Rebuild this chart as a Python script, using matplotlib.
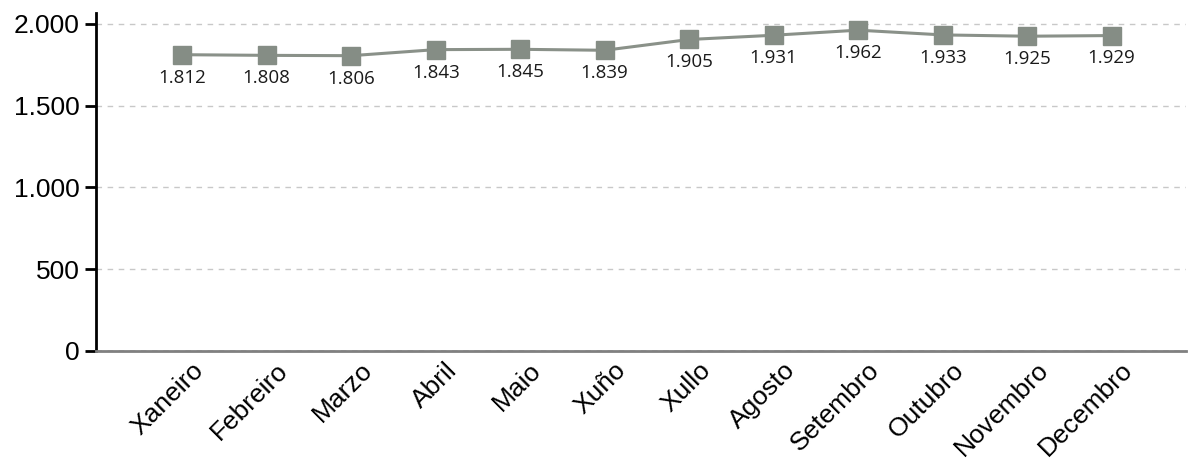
import matplotlib
matplotlib.use("Agg")
from matplotlib import pyplot as plt
from matplotlib.transforms import ScaledTranslation

# Data
months = ["Xaneiro", "Febreiro", "Marzo", "Abril", "Maio", "Xuño",
          "Xullo", "Agosto", "Setembro", "Outubro", "Novembro", "Decembro"]
values = [1812, 1808, 1806, 1843, 1845, 1839, 1905, 1931, 1962, 1933, 1925, 1929]
y_ticks = [0, 500, 1000, 1500, 2000]


def fmt(v):
    return f"{v:,}".replace(",", ".")


fig = plt.figure(figsize=(11.88, 4.66), dpi=100)
ax = fig.add_axes([96 / 1188, 1 - 351 / 466, 1090 / 1188, 338 / 466])

x = list(range(len(months)))
ax.plot(x, values, color="#8a9189", linewidth=2.2, marker="s", markersize=13,
        markerfacecolor="#858d85", markeredgecolor="#858d85", zorder=3)

for xi, v in zip(x, values):
    ax.annotate(fmt(v), (xi, v), xytext=(0, -10), textcoords="offset points",
                ha="center", va="top", fontsize=13.5, family="Open Sans",
                color="#1a1a1a")

ax.set_xlim(-1.02, 11.88)
ax.set_ylim(0, 2067)
ax.set_yticks(y_ticks)
ax.set_yticklabels([fmt(t) for t in y_ticks], family="Liberation Sans", fontsize=19)
ax.set_xticks(x)
ax.set_xticklabels(months, rotation=45, ha="right", rotation_mode="anchor",
                   family="Liberation Sans", fontsize=19)

ax.grid(axis="y", linestyle=(0, (4, 4)), color="#c8c8c8", linewidth=1)
ax.set_axisbelow(True)

for side in ["top", "right"]:
    ax.spines[side].set_visible(False)
ax.spines["left"].set_linewidth(2)
ax.spines["bottom"].set_color("#808080")
ax.spines["bottom"].set_linewidth(2)
ax.axhline(0, color="#333333", linewidth=1, linestyle=(0, (4, 4)), zorder=2.5)
ax.tick_params(axis="y", length=8, width=2, pad=4)
ax.tick_params(axis="x", length=0, pad=5)

# nudge rotated month labels to the right like the original
shift = ScaledTranslation(9 / 100, 0, fig.dpi_scale_trans)
for lbl in ax.get_xticklabels():
    lbl.set_transform(lbl.get_transform() + shift)

fig.savefig("out.png", dpi=100)
